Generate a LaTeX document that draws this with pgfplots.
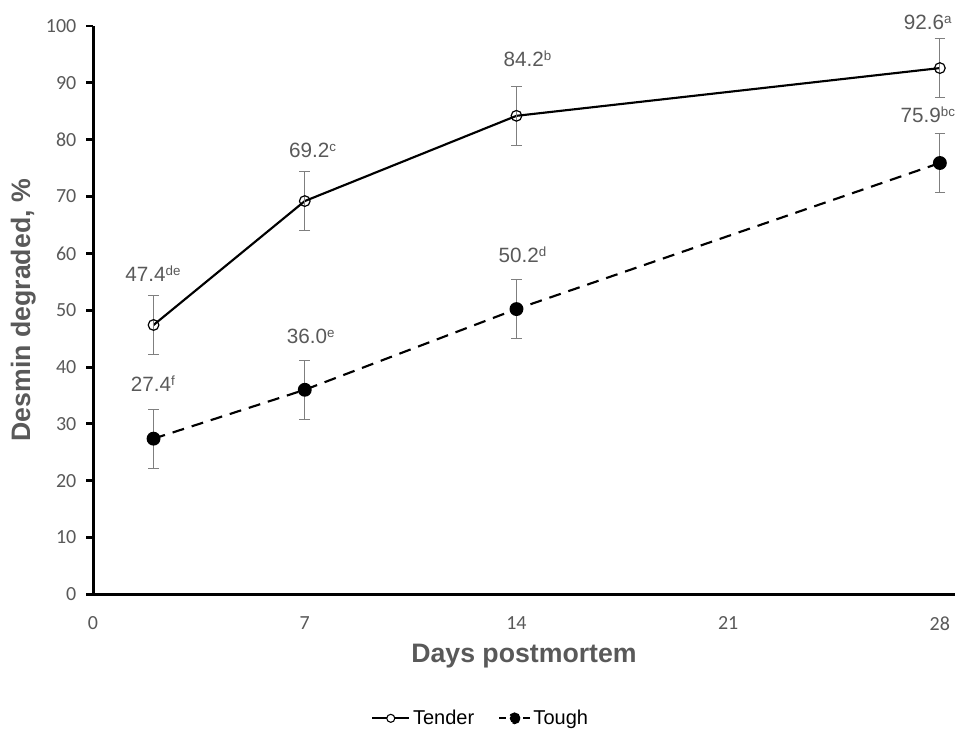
\documentclass[border=0pt]{standalone}
\usepackage{pgfplots}
\pgfplotsset{compat=1.18}
\usepackage{fontspec}
\setmainfont{Liberation Sans}
\newfontfamily\tickfont{Carlito}
\definecolor{txtgray}{HTML}{595959}
\definecolor{errgray}{HTML}{7F7F7F}
\newcommand{\sps}[1]{\raisebox{0.55ex}{\fontsize{10}{10}\selectfont #1}}

\begin{document}
\begin{tikzpicture}
\begin{axis}[
  scale only axis,
  width=646pt, height=426pt,
  xmin=0, xmax=28.5,
  ymin=0, ymax=100,
  xtick={0,7,14,21,28},
  ytick={0,10,...,100},
  axis lines=left,
  axis line style={line width=2.2pt, -},
  x axis line style={shorten <=-4pt},
  major x tick style={draw=none},
  major y tick style={line width=2.2pt, black},
  tick align=outside,
  major tick length=5pt,
  /pgf/number format/assume math mode=true,
  tick label style={font=\tickfont\fontsize{15}{16}\selectfont, text=txtgray},
  xticklabel style={yshift=-8pt},
  yticklabel style={xshift=-4pt},
  xlabel={\textbf{Days postmortem}},
  ylabel={\textbf{Desmin degraded, \%}},
  label style={font=\fontsize{20}{22}\selectfont, text=txtgray},
  xlabel style={at={(axis description cs:0.5,-0.109)}, anchor=center},
  ylabel style={at={(axis description cs:-0.081,0.5)}, anchor=center},
  legend style={at={(axis description cs:0.45,-0.218)}, anchor=center,
    draw=none, legend columns=2, font=\fontsize{15}{16}\selectfont,
    /tikz/every even column/.append style={column sep=16pt}},
  legend cell align=left,
  error bars/y dir=both,
  error bars/y explicit,
  error bars/error bar style={errgray, line width=0.8pt, solid},
  error bars/error mark options={rotate=90, errgray, mark size=4pt, line width=0.8pt, solid},
  clip=false,
]
% Tender
\addplot[black, line width=1.6pt, mark=o, mark size=4pt,
  mark options={solid, line width=0.9pt, fill=white},
  legend image code/.code={
    \draw[line width=1.4pt] (0pt,0pt) -- (28pt,0pt);
    \draw[solid, line width=0.8pt, fill=white] (14pt,0pt) circle (3pt);}]
  coordinates {
  (2,47.4) +- (0,5.2)
  (7,69.2) +- (0,5.2)
  (14,84.2) +- (0,5.2)
  (28,92.6) +- (0,5.2)
};
\addlegendentry{Tender}
% Tough
\addplot[black, line width=1.6pt, dash pattern=on 9pt off 6pt, mark=*, mark size=4.4pt,
  mark options={solid},
  legend image code/.code={
    \draw[line width=1.4pt] (0pt,0pt) -- (5pt,0pt);
    \draw[line width=1.4pt] (18pt,0pt) -- (23pt,0pt);
    \fill[black] (11.5pt,0pt) circle (3.6pt);}]
  coordinates {
  (2,27.4) +- (0,5.2)
  (7,36.0) +- (0,5.2)
  (14,50.2) +- (0,5.2)
  (28,75.9) +- (0,5.2)
};
\addlegendentry{Tough}

\begin{scope}[every node/.style={font=\fontsize{15.5}{17}\selectfont, text=txtgray, anchor=center, inner sep=0pt}]
\node at (axis cs:1.98,56.5)  {47.4\sps{de}};
\node at (axis cs:7.26,78.2)  {69.2\sps{c}};
\node at (axis cs:14.36,94.2) {84.2\sps{b}};
\node at (axis cs:27.6,100.7) {92.6\sps{a}};
\node at (axis cs:1.98,37.1)  {27.4\sps{f}};
\node at (axis cs:7.2,45.4)   {36.0\sps{e}};
\node at (axis cs:14.2,59.7)  {50.2\sps{d}};
\node at (axis cs:27.6,84.3)  {75.9\sps{bc}};
\end{scope}
\end{axis}
\pgfresetboundingbox
\path[use as bounding box] ([xshift=-69.75pt,yshift=-105pt]current axis.south west)
  rectangle ([xshift=9pt,yshift=19.5pt]current axis.north east);
\end{tikzpicture}
\end{document}
